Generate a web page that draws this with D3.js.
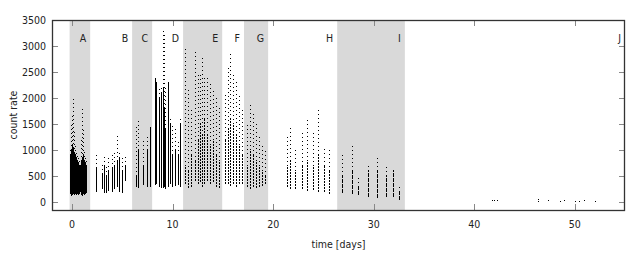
<!DOCTYPE html>
<html>
<head>
<meta charset="utf-8">
<script src="https://cdn.jsdelivr.net/npm/d3@7"></script>
<style>
  body { margin: 0; background: #fff; }
  text { font-family: "DejaVu Sans Condensed", "DejaVu Sans", sans-serif; font-stretch: condensed; font-size: 10.5px; fill: #222; }
</style>
</head>
<body>
<div id="chart"></div>
<script>
// segment boundaries (days) and their labels
var segEnds = [-0.25, 1.8, 5.97, 7.96, 11.04, 14.93, 17.1, 19.5, 26.37, 33.1, 55];
var segLabels = ["A", "B", "C", "D", "E", "F", "G", "H", "I", "J"];

var xTicks = [0, 10, 20, 30, 40, 50];
var yTicks = [0, 500, 1000, 1500, 2000, 2500, 3000, 3500];

// each observation column: day, lowest rate, top of the dense part, top of the sparse points
var colDay = [-0.2, -0.1, 0, 0.1, 0.2, 0.3, 0.4, 0.5, 0.6, 0.7, 0.8, 0.9, 1.0, 1.1, 1.2, 1.3, 1.4,
  2.4, 3.0, 3.2, 3.4, 3.6, 4.0, 4.2, 4.45, 4.7, 5.0, 5.3,
  6.4, 6.55, 7.05, 7.45, 7.7, 7.75,
  8.25, 8.35, 8.65, 8.85, 9.05, 9.15, 9.25, 9.55, 9.75, 9.95, 10.25, 10.5, 10.75,
  11.25, 11.55, 11.85, 12.25, 12.55, 12.75, 12.95, 13.15, 13.45, 13.75, 14.05, 14.35, 14.65,
  15.2, 15.5, 15.7, 16.0, 16.3, 16.6, 16.9,
  17.4, 17.7, 18.0, 18.3, 18.6, 18.9, 19.2,
  21.4, 21.7, 22.2, 22.9, 23.4, 24.0, 24.5, 25.1, 25.6,
  26.8, 27.8, 28.4, 29.45, 30.35, 31.2, 31.9, 32.55,
  41.8, 42.0, 42.3, 46.3, 47.3, 48.5, 48.9, 50.05, 50.45, 50.95, 52.0];
var colLow = [150, 120, 130, 150, 140, 160, 130, 150, 140, 160, 200, 130, 120, 150, 140, 160, 180,
  190, 250, 180, 170, 220, 200, 250, 300, 200, 180, 400,
  300, 280, 330, 300, 290, 300,
  330, 350, 300, 280, 270, 300, 260, 300, 350, 300, 310, 330, 300,
  350, 280, 300, 400, 350, 380, 300, 350, 400, 350, 380, 300, 280,
  350, 350, 320, 350, 300, 350, 350,
  300, 250, 300, 280, 300, 320, 350,
  290, 250, 250, 250, 220, 230, 200, 200, 150,
  170, 150, 130, 100, 80, 100, 100, 50,
  20, 30, 20, 0, 20, 10, 20, 0, 10, 20, 10];
var colDense = [900, 1000, 1100, 1050, 950, 900, 850, 800, 750, 700, 700, 800, 850, 900, 800, 750, 700,
  650, 550, 700, 500, 600, 650, 700, 800, 850, 600, 700,
  500, 1000, 700, 1000, 1450, 1400,
  2380, 2300, 2000, 2100, 2200, 1800, 1400, 2300, 1500, 900, 1000, 900, 1500,
  700, 600, 900, 800, 1200, 1500, 1300, 1600, 1300, 1100, 1200, 900, 800,
  1200, 1400, 1600, 1500, 1300, 1100, 900,
  700, 1000, 900, 800, 700, 600, 500,
  700, 800, 600, 700, 800, 700, 900, 700, 600,
  500, 600, 300, 600, 600, 500, 600, 200,
  50, 60, 40, 80, 50, 40, 50, 30, 40, 50, 40];
var colTop = [1000, 1500, 1700, 2000, 1400, 1100, 1000, 900, 850, 800, 750, 1200, 1800, 1400, 1000, 900, 800,
  960, 750, 900, 700, 850, 900, 1000, 1330, 1000, 900, 900,
  1500, 1580, 1200, 1300, 1450, 1400,
  2380, 2300, 2200, 2250, 3300, 3250, 2200, 2300, 1650, 1500, 1400, 1200, 1600,
  2950, 2200, 1800, 2900, 2500, 2450, 2800, 2400, 2400, 2300, 2200, 2000, 1800,
  2100, 2600, 2850, 2500, 2300, 2100, 1800,
  1500, 1900, 1700, 1500, 1300, 1100, 1000,
  1250, 1420, 1000, 1350, 1580, 1320, 1770, 1050, 1000,
  940, 1130, 500, 700, 870, 700, 650, 350,
  50, 60, 40, 80, 50, 40, 50, 30, 40, 50, 40];

var width = 640, height = 260;
var margin = { left: 52, right: 15, top: 20, bottom: 50 };

var svg = d3.select('#chart').append('svg')
  .attr('width', width)
  .attr('height', height);

var x = d3.scaleLinear().domain([-2, 55]).range([margin.left, width - margin.right]);
var y = d3.scaleLinear().domain([-150, 3500]).range([height - margin.bottom, margin.top]);

// shaded segments A, C, E, G, I
var segs = segEnds.slice(1).map(function (e, i) {
  return { start: segEnds[i], end: e, label: segLabels[i], shade: i % 2 == 0 };
});

svg.append('g').selectAll('rect')
  .data(segs.filter(function (d) { return d.shade; }))
  .enter().append('rect')
  .attr('x', function (d) { return x(d.start); })
  .attr('width', function (d) { return x(d.end) - x(d.start); })
  .attr('y', margin.top)
  .attr('height', y.range()[0] - margin.top)
  .attr('fill', '#d9d9d9');

svg.append('g').selectAll('text')
  .data(segs)
  .enter().append('text')
  .attr('x', function (d) { return x(d.end) - 4; })
  .attr('y', 42)
  .attr('text-anchor', 'end')
  .text(function (d) { return d.label; });

// data columns
var cols = colDay.map(function (d, i) {
  return { t: d, lo: colLow[i], hi: colDense[i], top: colTop[i] };
});

var g = svg.append('g').attr('shape-rendering', 'crispEdges');

g.selectAll('line.sparse')
  .data(cols.filter(function (d) { return d.top > d.hi; }))
  .enter().append('line')
  .attr('class', 'sparse')
  .attr('x1', function (d) { return Math.round(x(d.t)) + 0.5; })
  .attr('x2', function (d) { return Math.round(x(d.t)) + 0.5; })
  .attr('y1', function (d) { return y(d.hi); })
  .attr('y2', function (d) { return y(d.top); })
  .attr('stroke', '#000')
  .attr('stroke-width', 1)
  .attr('stroke-dasharray', '1,3');

// the later segments (E to H) are scattered points, the others are packed
g.selectAll('line.dense')
  .data(cols)
  .enter().append('line')
  .attr('class', 'dense')
  .attr('x1', function (d) { return Math.round(x(d.t)) + 0.5; })
  .attr('x2', function (d) { return Math.round(x(d.t)) + 0.5; })
  .attr('y1', function (d) { return y(d.lo); })
  .attr('y2', function (d) { return Math.min(y(d.hi), y(d.lo) - 1.5); })
  .attr('stroke', '#000')
  .attr('stroke-width', 1.2)
  .attr('stroke-dasharray', function (d) {
    if (d.hi - d.lo < 100) return '1,1';
    if (d.t > 11 && d.t < 26.4) return '2,1';
    if (d.t > 26.4) return '4,1';
    return null;
  });

// ticks (mirrored on all sides)
var x0 = x.range()[0], x1 = x.range()[1], y0 = y.range()[0], y1 = y.range()[1];
var tk = svg.append('g').attr('stroke', '#888').attr('stroke-width', 1).attr('shape-rendering', 'crispEdges');
xTicks.forEach(function (t) {
  var px = Math.round(x(t)) + 0.5;
  tk.append('line').attr('x1', px).attr('x2', px).attr('y1', y0).attr('y2', y0 - 6);
  tk.append('line').attr('x1', px).attr('x2', px).attr('y1', y1).attr('y2', y1 + 6);
});
yTicks.forEach(function (t) {
  var py = Math.round(y(t)) + 0.5;
  tk.append('line').attr('x1', x0).attr('x2', x0 + 6).attr('y1', py).attr('y2', py);
  tk.append('line').attr('x1', x1).attr('x2', x1 - 6).attr('y1', py).attr('y2', py);
});

// frame
svg.append('rect')
  .attr('x', x0 + 0.5).attr('y', y1 + 0.5)
  .attr('width', x1 - x0 - 1).attr('height', y0 - y1)
  .attr('fill', 'none').attr('stroke', '#333').attr('stroke-width', 1.3);

svg.append('g').selectAll('text')
  .data(xTicks).enter().append('text')
  .attr('x', function (d) { return x(d); })
  .attr('y', y0 + 18)
  .attr('text-anchor', 'middle')
  .text(function (d) { return d; });

svg.append('g').selectAll('text')
  .data(yTicks).enter().append('text')
  .attr('x', x0 - 6)
  .attr('y', function (d) { return y(d) + 4; })
  .attr('text-anchor', 'end')
  .text(function (d) { return d; });

svg.append('text')
  .attr('x', (x0 + x1) / 2)
  .attr('y', 248)
  .attr('text-anchor', 'middle')
  .text('time [days]');

svg.append('text')
  .attr('transform', 'translate(17,' + ((y0 + y1) / 2) + ') rotate(-90)')
  .attr('text-anchor', 'middle')
  .text('count rate');
</script>
</body>
</html>
